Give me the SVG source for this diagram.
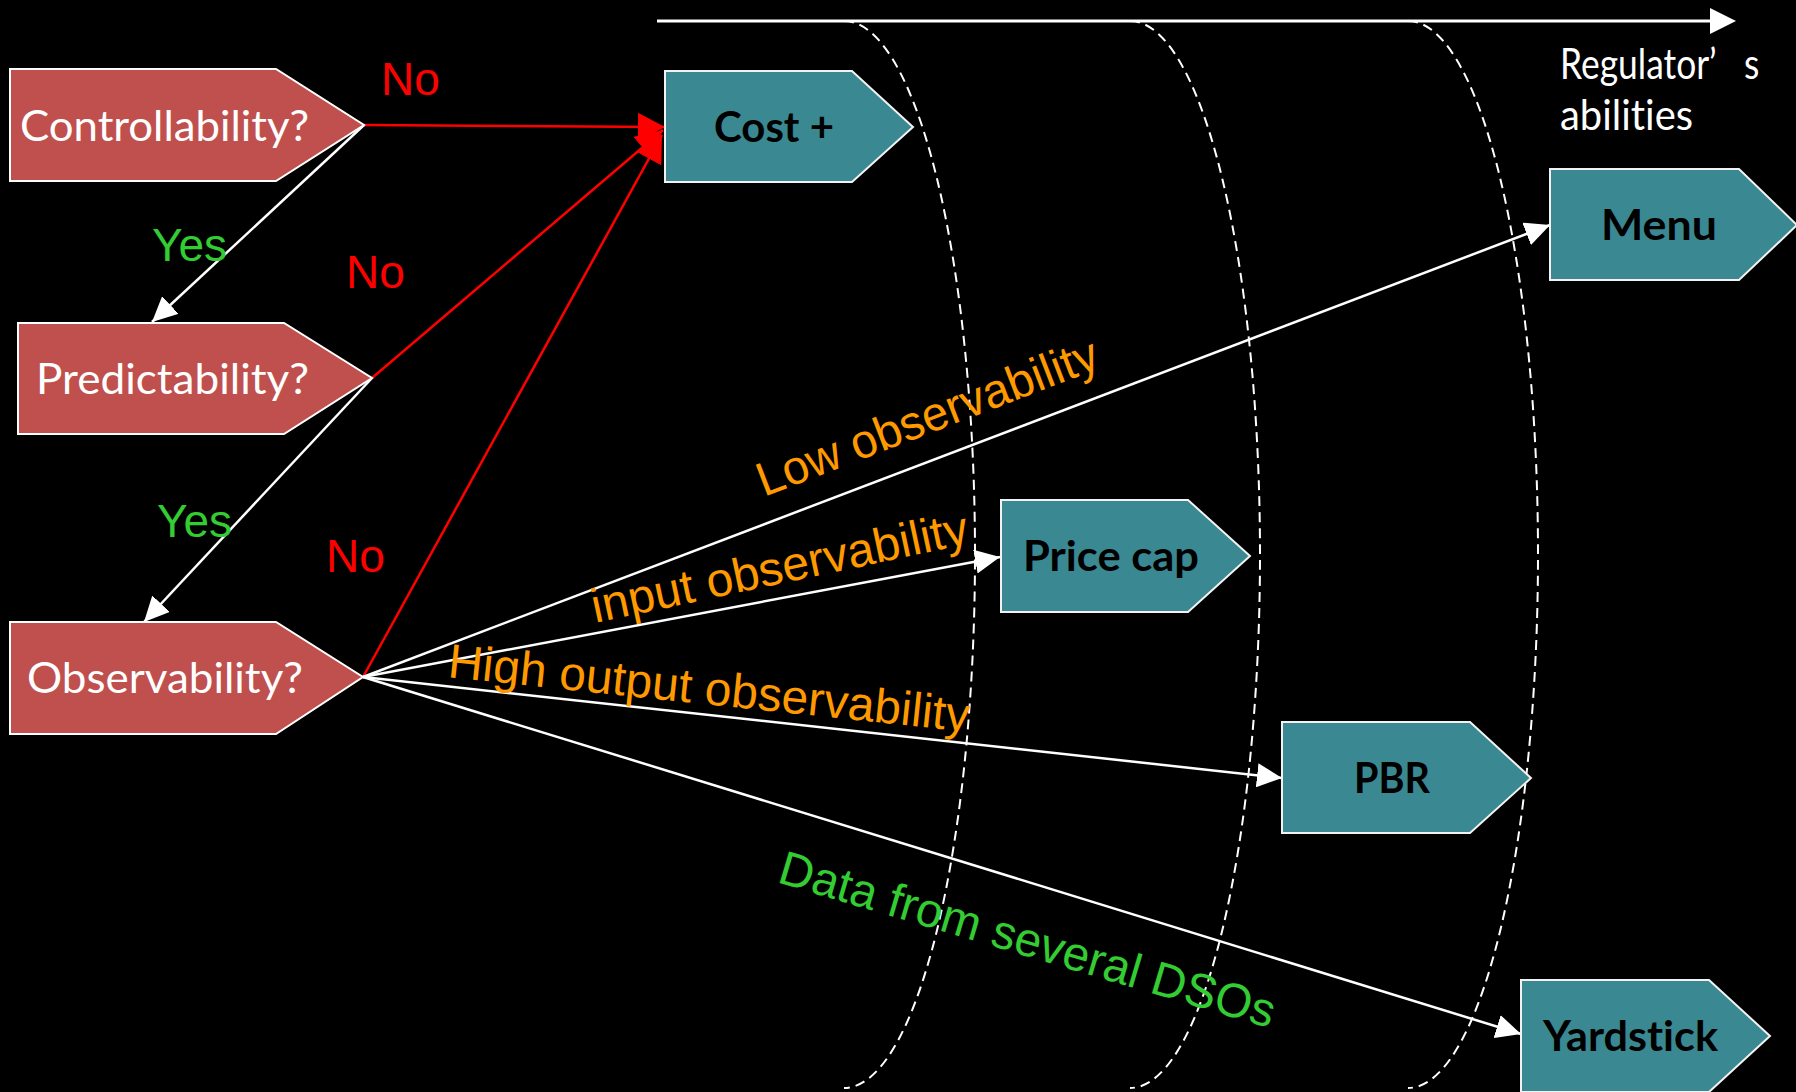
<svg xmlns="http://www.w3.org/2000/svg" width="1796" height="1092" viewBox="0 0 1796 1092">
<defs>
<style>
text{font-variant-ligatures:none}
.q{fill:#C0504D;stroke:#FFFFFF;stroke-width:2}
.r{fill:#3A8891;stroke:#F2F2F2;stroke-width:2}
.qt{font-family:Lato,"Open Sans",sans-serif;font-size:42px;fill:#FFFFFF}
.rt{font-family:Lato,"Open Sans",sans-serif;font-size:42px;font-weight:bold;fill:#000000}
.lab{font-family:"Liberation Sans",Arial,sans-serif;font-size:46px}
.rot{font-size:48px}
.no{fill:#FF0000}
.yes{fill:#33CC33}
.or{fill:#FF9900}
.w{stroke:#FFFFFF;stroke-width:2.5;fill:none}
.red{stroke:#FF0000;stroke-width:2.5;fill:none}
.dash{stroke:#FFFFFF;stroke-width:2;fill:none;stroke-dasharray:10 6}
</style>
<marker id="aw" markerUnits="userSpaceOnUse" markerWidth="26" markerHeight="24" refX="25" refY="12" orient="auto"><path d="M0,0 L25,12 L0,24 z" fill="#FFFFFF"/></marker>
<marker id="ar" markerUnits="userSpaceOnUse" markerWidth="28" markerHeight="28" refX="27" refY="14" orient="auto"><path d="M0,0 L27,14 L0,28 z" fill="#FF0000"/></marker>
</defs>
<rect x="0" y="0" width="1796" height="1092" fill="#000000"/>

<g id="axis">
<line x1="657" y1="21" x2="1712" y2="21" stroke="#FFFFFF" stroke-width="3"/>
<polygon points="1710,8 1736,21 1710,34" fill="#FFFFFF"/>
<text class="qt" font-size="38" x="1560" y="79" textLength="172" lengthAdjust="spacingAndGlyphs">Regulator’<tspan x="1744">s</tspan></text>
<text class="qt" font-size="38" x="1560" y="130" textLength="133" lengthAdjust="spacingAndGlyphs">abilities</text>
</g>

<g id="bands">
<path class="dash" d="M844,21 A131,533.5 0 0 1 844,1088"/>
<path class="dash" d="M1130,21 A130,533.5 0 0 1 1130,1088"/>
<path class="dash" d="M1408,21 A130,533.5 0 0 1 1408,1088"/>
</g>

<g id="connectors">
<line class="red" x1="364" y1="125" x2="665" y2="127" marker-end="url(#ar)"/>
<line class="red" x1="372" y1="378" x2="663" y2="130" marker-end="url(#ar)"/>
<line class="red" x1="363" y1="677" x2="662" y2="135" marker-end="url(#ar)"/>
<line class="w" x1="364" y1="125" x2="152" y2="322" marker-end="url(#aw)"/>
<line class="w" x1="372" y1="378" x2="144" y2="622" marker-end="url(#aw)"/>
<line class="w" x1="363" y1="677" x2="1550" y2="225" marker-end="url(#aw)"/>
<line class="w" x1="363" y1="677" x2="1000" y2="557" marker-end="url(#aw)"/>
<line class="w" x1="363" y1="677" x2="1282" y2="778" marker-end="url(#aw)"/>
<line class="w" x1="363" y1="677" x2="1521" y2="1034" marker-end="url(#aw)"/>
</g>

<g id="controllability">
<polygon class="q" points="10,69 276,69 364,125 276,181 10,181"/>
<text class="qt" x="20" y="141" textLength="289" lengthAdjust="spacingAndGlyphs">Controllability?</text>
</g>
<g id="predictability">
<polygon class="q" points="18,323 284,323 372,378 284,434 18,434"/>
<text class="qt" x="36" y="394" textLength="273" lengthAdjust="spacingAndGlyphs">Predictability?</text>
</g>
<g id="observability">
<polygon class="q" points="10,622 276,622 363,677 276,734 10,734"/>
<text class="qt" x="27" y="693" textLength="276" lengthAdjust="spacingAndGlyphs">Observability?</text>
</g>

<g id="costplus">
<polygon class="r" points="665,71 852,71 913,127 852,182 665,182"/>
<text class="rt" x="714" y="142" textLength="120" lengthAdjust="spacingAndGlyphs">Cost +</text>
</g>
<g id="menu">
<polygon class="r" points="1550,169 1739,169 1797,225 1739,280 1550,280"/>
<text class="rt" x="1601" y="240" textLength="116" lengthAdjust="spacingAndGlyphs">Menu</text>
</g>
<g id="pricecap">
<polygon class="r" points="1001,500 1188,500 1250,556 1188,612 1001,612"/>
<text class="rt" x="1023" y="571" textLength="176" lengthAdjust="spacingAndGlyphs">Price cap</text>
</g>
<g id="pbr">
<polygon class="r" points="1282,722 1470,722 1531,778 1470,833 1282,833"/>
<text class="rt" x="1354" y="793" textLength="76" lengthAdjust="spacingAndGlyphs">PBR</text>
</g>
<g id="yardstick">
<polygon class="r" points="1521,980 1709,980 1770,1036 1709,1092 1521,1092"/>
<text class="rt" x="1543" y="1051" textLength="175" lengthAdjust="spacingAndGlyphs">Yardstick</text>
</g>

<g id="labels">
<text class="lab no" x="381" y="95">No</text>
<text class="lab no" x="346" y="288">No</text>
<text class="lab no" x="326" y="572">No</text>
<text class="lab yes" x="152" y="261">Yes</text>
<text class="lab yes" x="157" y="537">Yes</text>
<text class="lab rot or" transform="translate(764,497) rotate(-21)" textLength="362" lengthAdjust="spacingAndGlyphs">Low observability</text>
<text class="lab rot or" transform="translate(595,623) rotate(-12)" textLength="384" lengthAdjust="spacingAndGlyphs">input observability</text>
<text class="lab rot or" transform="translate(447,677) rotate(6)" textLength="524" lengthAdjust="spacingAndGlyphs">High output observability</text>
<text class="lab rot yes" transform="translate(776,882) rotate(16.5)" textLength="515" lengthAdjust="spacingAndGlyphs">Data from several DSOs</text>
</g>
</svg>
